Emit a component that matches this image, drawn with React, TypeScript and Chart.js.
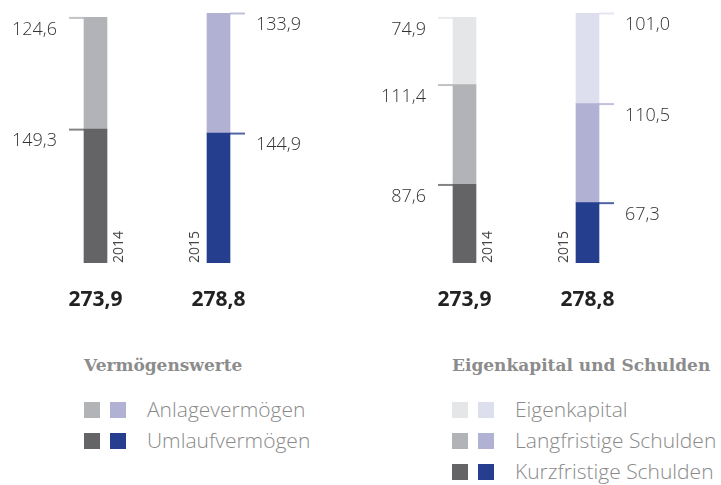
import React, { useEffect, useRef } from "react";
import { Chart, registerables } from "chart.js";

Chart.register(...registerables);

// ---- data ----
const years = ["2014", "2015"];
const anlagevermoegen = [124.6, 133.9];
const umlaufvermoegen = [149.3, 144.9];
const eigenkapital = [74.9, 101.0];
const langfristigeSchulden = [111.4, 110.5];
const kurzfristigeSchulden = [87.6, 67.3];
const groupTitles = ["Vermögenswerte", "Eigenkapital und Schulden"];
const leftLegend = ["Anlagevermögen", "Umlaufvermögen"];
const rightLegend = ["Eigenkapital", "Langfristige Schulden", "Kurzfristige Schulden"];

// ---- styles ----
const darkColors = ["#646466", "#263e8e"];
const midColors = ["#b2b3b6", "#b1b1d3"];
const lightColors = ["#e5e6e8", "#dedfee"];

const labels = [...years, "", ...years];
const bottomValues = [...umlaufvermoegen, null, ...kurzfristigeSchulden];
const middleValues = [...anlagevermoegen, null, ...langfristigeSchulden];
const topValues = [null, null, null, ...eigenkapital];
const perBar = (c: string[]) => [c[0], c[1], "rgba(0,0,0,0)", c[0], c[1]];

const fmt = (v: number) => v.toFixed(1).replace(".", ",");

const labelPlugin = {
  id: "labelPlugin",
  afterDatasetsDraw(chart: any) {
    const ctx = chart.ctx;
    const n = labels.length;
    const totals: number[] = new Array(n).fill(0);
    const bars: any[] = new Array(n).fill(null);
    chart.data.datasets.forEach((ds: any, di: number) => {
      const meta = chart.getDatasetMeta(di);
      meta.data.forEach((el: any, i: number) => {
        const v = ds.data[i];
        if (v === null || v === undefined) return;
        totals[i] += v;
        const props = el.getProps(["x", "y", "base", "width"], true);
        const left = props.x - props.width / 2;
        const right = props.x + props.width / 2;
        const top = Math.min(props.y, props.base);
        const isFirstYear = labels[i] === years[0];
        bars[i] = props;
        // tick line
        ctx.save();
        ctx.globalAlpha = 0.8;
        ctx.strokeStyle = ds.backgroundColor[i];
        ctx.lineWidth = 2;
        ctx.beginPath();
        if (isFirstYear) {
          ctx.moveTo(left - 15, top + 0.5);
          ctx.lineTo(left, top + 0.5);
        } else {
          ctx.moveTo(right, top + 0.5);
          ctx.lineTo(right + 15, top + 0.5);
        }
        ctx.stroke();
        ctx.restore();
        // value text
        ctx.save();
        ctx.fillStyle = "#333333";
        ctx.font = "300 18px 'Open Sans'";
        ctx.textBaseline = "middle";
        if (isFirstYear) {
          ctx.textAlign = "right";
          ctx.fillText(fmt(v), left - 27, top + 12);
        } else {
          ctx.textAlign = "left";
          ctx.fillText(fmt(v), right + 26, top + 12);
        }
        ctx.restore();
      });
    });
    // year labels and totals
    for (let i = 0; i < n; i++) {
      const b = bars[i];
      if (!b) continue;
      const left = b.x - b.width / 2;
      const right = b.x + b.width / 2;
      const bottom = chart.chartArea.bottom;
      const isFirstYear = labels[i] === years[0];
      ctx.save();
      ctx.fillStyle = "#444444";
      ctx.font = "14px 'Open Sans'";
      ctx.textAlign = "left";
      if (isFirstYear) {
        ctx.translate(right + 5, bottom);
        ctx.rotate(-Math.PI / 2);
        ctx.textBaseline = "top";
      } else {
        ctx.translate(left - 8, bottom);
        ctx.rotate(-Math.PI / 2);
        ctx.textBaseline = "alphabetic";
      }
      ctx.fillText(labels[i], 0, 0);
      ctx.restore();

      ctx.save();
      ctx.fillStyle = "#222222";
      ctx.font = "bold 21px 'Open Sans'";
      ctx.textAlign = "center";
      ctx.textBaseline = "middle";
      ctx.fillText(fmt(totals[i]), b.x, bottom + 37);
      ctx.restore();
    }
  },
};

const legendText: React.CSSProperties = {
  fontFamily: "'Open Sans', sans-serif",
  fontWeight: 300,
  fontSize: 21,
  color: "#8a8a8a",
};

function Legend({
  left,
  title,
  items,
  colors,
}: {
  left: number;
  title: string;
  items: string[];
  colors: string[][];
}) {
  return (
    <div style={{ position: "absolute", left, top: 354 }}>
      <div
        style={{
          fontFamily: "'DejaVu Serif', 'Liberation Serif', serif",
          fontWeight: "bold",
          fontSize: 17,
          color: "#8c8c8c",
          height: 22,
          lineHeight: "22px",
          marginBottom: 18,
          whiteSpace: "nowrap",
        }}
      >
        {title}
      </div>
      {items.map((it, i) => (
        <div
          key={it}
          style={{ display: "flex", alignItems: "center", height: 31, whiteSpace: "nowrap" }}
        >
          <span style={{ width: 16, height: 16, background: colors[i][0], marginRight: 10 }} />
          <span style={{ width: 16, height: 16, background: colors[i][1], marginRight: 21 }} />
          <span style={{ ...legendText, lineHeight: "31px" }}>{it}</span>
        </div>
      ))}
    </div>
  );
}

export default function App() {
  const ref = useRef<HTMLCanvasElement>(null);
  useEffect(() => {
    if (!ref.current) return;
    const totals = labels.map((_, i) =>
      [bottomValues[i], middleValues[i], topValues[i]].reduce((a: number, v) => a + (v ?? 0), 0)
    );
    const maxTotal = Math.max(...totals);
    const chart = new Chart(ref.current, {
      type: "bar",
      data: {
        labels,
        datasets: [
          { data: bottomValues, backgroundColor: perBar(darkColors), barThickness: 23, borderWidth: 0 },
          { data: middleValues, backgroundColor: perBar(midColors), barThickness: 23, borderWidth: 0 },
          { data: topValues, backgroundColor: perBar(lightColors), barThickness: 23, borderWidth: 0 },
        ] as any,
      },
      options: {
        responsive: false,
        animation: false,
        layout: { padding: { left: 34, right: 72, top: 13, bottom: 67 } },
        plugins: { legend: { display: false }, tooltip: { enabled: false } },
        scales: {
          x: { display: false, stacked: true },
          y: { display: false, stacked: true, min: 0, max: maxTotal },
        },
      },
      plugins: [labelPlugin],
    });
    return () => chart.destroy();
  }, []);

  return (
    <div style={{ position: "absolute", left: 0, top: 0, width: 721, height: 485, background: "#fff" }}>
      <canvas ref={ref} width={721} height={330} style={{ display: "block" }} />
      <Legend
        left={84}
        title={groupTitles[0]}
        items={leftLegend}
        colors={[
          [midColors[0], midColors[1]],
          [darkColors[0], darkColors[1]],
        ]}
      />
      <Legend
        left={452}
        title={groupTitles[1]}
        items={rightLegend}
        colors={[
          [lightColors[0], lightColors[1]],
          [midColors[0], midColors[1]],
          [darkColors[0], darkColors[1]],
        ]}
      />
    </div>
  );
}
